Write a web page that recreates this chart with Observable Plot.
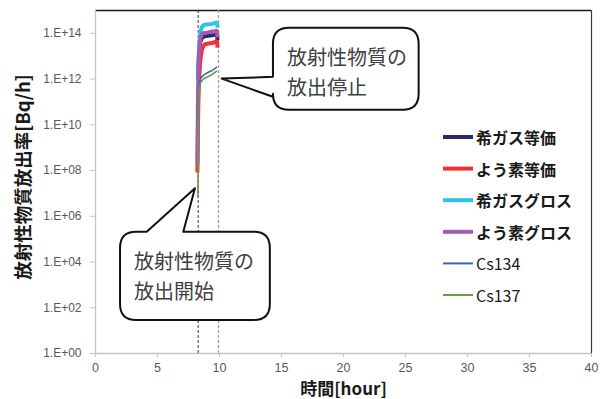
<!DOCTYPE html>
<html>
<head>
<meta charset="utf-8">
<script src="https://cdn.jsdelivr.net/npm/d3@7"></script>
<script src="https://cdn.jsdelivr.net/npm/@observablehq/plot@0.6"></script>
<style>
  html, body { margin: 0; padding: 0; background: #fff; }
  #chart svg { display: block; }
</style>
</head>
<body>
<div id="chart"></div>
<script>
// Release rate of radioactive material [Bq/h] against elapsed time [hour]
const hours = [8.22, 8.26, 8.3, 8.35, 8.45, 8.6, 8.8, 9.1, 9.4, 9.6, 9.8, 9.84];

const nobleGasEq    = [null, 1.1e12, 3.0e12, 1.1e13, 4.1e13, 6.7e13, 7.4e13, 7.8e13, 8.2e13, 8.6e13, 9.1e13, 4.9e13];
const iodineEq      = [8.3e7, 5.8e9, 1.2e11, 8.7e11, 6.6e12, 2.2e13, 3.3e13, 3.6e13, 3.8e13, 4.1e13, 4.7e13, 2.4e13];
const nobleGasGross = [null, 8.7e11, 5.4e12, 2.2e13, 1.1e14, 2.0e14, 2.4e14, 2.5e14, 2.6e14, 2.8e14, 3.0e14, 1.8e14];
const iodineGross   = [2.0e8, 1.2e11, 2.4e12, 1.5e13, 6.0e13, 1.0e14, 1.05e14, 1.1e14, 1.2e14, 1.2e14, 1.35e14, 6.7e13];
const cs134         = [null, 1.6e10, 2.6e11, 5.9e11, 9.8e11, 1.3e12, 1.6e12, 2.0e12, 2.4e12, 2.8e12, 3.4e12, null];
const cs137         = [null, 6.8e6, 1.2e11, 4.0e11, 6.5e11, 8.7e11, 1.1e12, 1.3e12, 1.6e12, 1.9e12, 2.3e12, null];

const seriesNames  = ["希ガス等価", "よう素等価", "希ガスグロス", "よう素グロス", "Cs134", "Cs137"];
const seriesValues = [nobleGasEq, iodineEq, nobleGasGross, iodineGross, cs134, cs137];
const seriesColors = ["#2b2a6b", "#f03238", "#2fc3ec", "#a45bb5", "#3d66ae", "#6f9a45"];
const seriesWidths = [4, 4, 4, 4, 1.6, 1.6];
const drawOrder    = [0, 2, 1, 3, 4, 5];

// release start / stop times
const eventHours = [8.28, 9.92];

const xTicks = [0, 5, 10, 15, 20, 25, 30, 35, 40];
const yTicks = [1e0, 1e2, 1e4, 1e6, 1e8, 1e10, 1e12, 1e14];

const xTitle = "時間[hour]";
const yTitle = "放射性物質放出率[Bq/h]";

// callouts: text, box corners (hour, Bq/h), pointer tip and pointer base on the box edge
const callouts = [
  { lines: ["放射性物質の", "放出停止"], box: [14.35, 26.1, 1.66e14, 4.3e10],
    tip: [10.22, 1.0e12], edge: "left", base: [1.2e12, 1.6e11] },
  { lines: ["放射性物質の", "放出開始"], box: [2.02, 14.1, 2.0e5, 28],
    tip: [8.06, 1.6e7], edge: "top", base: [4.17, 7.12] }
];

const jp = "'Noto Sans CJK JP', 'Noto Sans', sans-serif";
const fmtExp = d => "1.E+" + String(Math.round(Math.log10(d))).padStart(2, "0");

const rows = [];
seriesValues.forEach((vals, s) => vals.forEach((v, i) => {
  if (v != null) rows.push({ series: seriesNames[s], hour: hours[i], value: v });
}));

const lines = drawOrder.map(s => Plot.line(rows.filter(d => d.series === seriesNames[s]), {
  x: "hour", y: "value", stroke: seriesColors[s], strokeWidth: seriesWidths[s],
  strokeLinejoin: "miter", strokeLinecap: "butt"
}));

const chart = Plot.plot({
  width: 608,
  height: 399,
  marginLeft: 95,
  marginRight: 17,
  marginTop: 10,
  marginBottom: 46,
  style: { fontFamily: "'Liberation Sans', Arial, sans-serif", fontSize: "12px", background: "#fff", overflow: "visible" },
  x: { domain: [0, 40] },
  y: { type: "log", domain: [1, 1e15] },
  marks: [
    Plot.ruleY([1e15], { stroke: "#1a1a1a", strokeWidth: 1.3 }),
    Plot.ruleX([40], { stroke: "#3a3a3a", strokeWidth: 1.2 }),
    Plot.ruleX([0], { stroke: "#c4c4c4", strokeWidth: 1.3 }),
    Plot.ruleY([1], { stroke: "#c4c4c4", strokeWidth: 1.3 }),
    Plot.axisX({ ticks: xTicks, tickSize: 4, tickPadding: 6, stroke: "#c4c4c4", fill: "#595959", label: null, fontSize: 12.5 }),
    Plot.axisY({ ticks: yTicks, tickFormat: fmtExp, tickSize: 5, tickPadding: 9, stroke: "#c4c4c4", fill: "#595959", label: null }),
    Plot.ruleX([eventHours[0]], { stroke: "#333", strokeDasharray: "3,2" }),
    Plot.ruleX([eventHours[1]], { stroke: "#a0a0a0", strokeDasharray: "3,2", strokeWidth: 1.3 }),
    ...lines,
    Plot.text([xTitle], { text: d => d, frameAnchor: "bottom", lineAnchor: "middle", textAnchor: "middle",
      dy: 36, fontWeight: "bold", fontSize: 17, fontFamily: jp, fill: "#1a1a1a" }),
    Plot.text([yTitle], { text: d => d, frameAnchor: "left", lineAnchor: "middle", textAnchor: "middle",
      dx: -71, dy: -5, rotate: -90, fontWeight: "bold", fontSize: 18.5, fontFamily: jp, fill: "#1a1a1a" })
  ]
});

document.getElementById("chart").appendChild(chart);

const sx = chart.scale("x"), sy = chart.scale("y");
const svg = d3.select(chart);

// callout shapes
const r = 16;
const cg = svg.append("g").attr("text-anchor", "start");
callouts.forEach(c => {
  const x0 = sx.apply(c.box[0]), x1 = sx.apply(c.box[1]);
  const y0 = sy.apply(c.box[2]), y1 = sy.apply(c.box[3]);
  const tx = sx.apply(c.tip[0]), ty = sy.apply(c.tip[1]);
  let p;
  if (c.edge === "left") {
    const b1 = sy.apply(c.base[0]), b2 = sy.apply(c.base[1]);
    p = `M${x0 + r},${y0} H${x1 - r} Q${x1},${y0} ${x1},${y0 + r} V${y1 - r} Q${x1},${y1} ${x1 - r},${y1} H${x0 + r} Q${x0},${y1} ${x0},${y1 - r} V${b2} L${tx},${ty} L${x0},${b1} V${y0 + r} Q${x0},${y0} ${x0 + r},${y0} Z`;
  } else {
    const b1 = sx.apply(c.base[0]), b2 = sx.apply(c.base[1]);
    p = `M${x0 + r},${y0} H${b1} L${tx},${ty} L${b2},${y0} H${x1 - r} Q${x1},${y0} ${x1},${y0 + r} V${y1 - r} Q${x1},${y1} ${x1 - r},${y1} H${x0 + r} Q${x0},${y1} ${x0},${y1 - r} V${y0 + r} Q${x0},${y0} ${x0 + r},${y0} Z`;
  }
  cg.append("path").attr("d", p).attr("fill", "#fff").attr("stroke", "#111")
    .attr("stroke-width", 2).attr("stroke-linejoin", "round");
  c.lines.forEach((t, i) => {
    cg.append("text").attr("x", x0 + 14).attr("y", y0 + 29 + i * 30)
      .attr("text-anchor", "start").attr("dominant-baseline", "central")
      .attr("font-family", jp).attr("font-size", 20).attr("fill", "#404040").text(t);
  });
});

// legend
const legendX = 443, legendTop = 137, legendStep = 31.6;
const lg = svg.append("g").attr("text-anchor", "start");
seriesNames.forEach((name, i) => {
  const y = legendTop + i * legendStep;
  lg.append("line").attr("x1", legendX).attr("x2", legendX + 30).attr("y1", y).attr("y2", y)
    .attr("stroke", seriesColors[i]).attr("stroke-width", seriesWidths[i] === 4 ? 4 : 2);
  lg.append("text").attr("x", legendX + 33).attr("y", y)
    .attr("text-anchor", "start").attr("dominant-baseline", "central")
    .attr("font-family", jp).attr("font-size", 16).attr("font-weight", seriesWidths[i] === 4 ? "bold" : "normal")
    .attr("fill", "#1a1a1a").text(name);
});
</script>
</body>
</html>
